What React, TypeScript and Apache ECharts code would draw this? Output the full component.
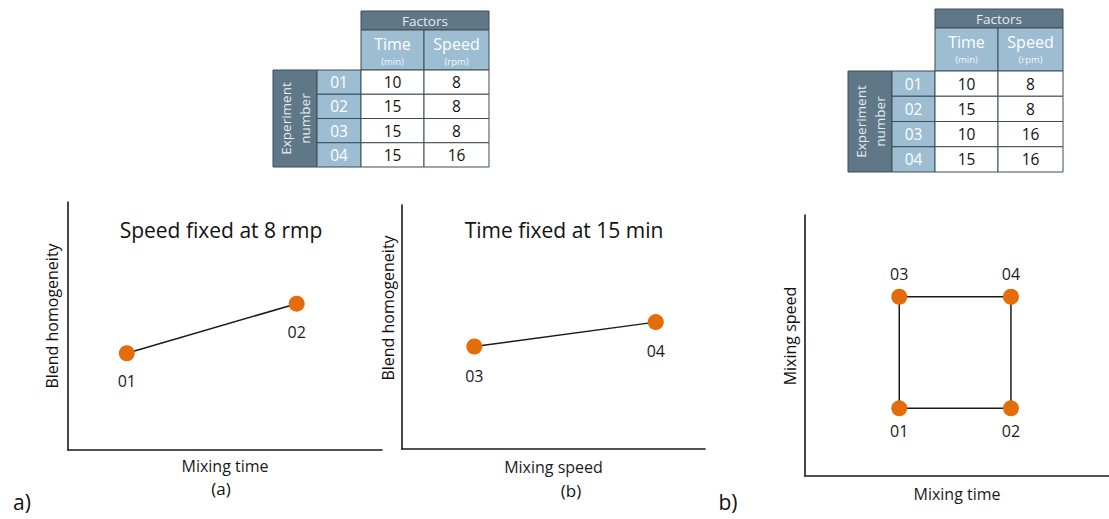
import React, { useEffect, useRef } from "react";
import * as echarts from "echarts";

// ---- data ----
const expIds = ["01", "02", "03", "04"];
const factorNames = ["Time", "Speed"];
const factorUnits = ["(min)", "(rpm)"];
const tableATime = [10, 15, 15, 15];
const tableASpeed = [8, 8, 8, 16];
const tableBTime = [10, 15, 10, 15];
const tableBSpeed = [8, 8, 16, 16];

const panelATime = [10, 15];
const panelAHomog = [0.39, 0.59];
const panelAIds = ["01", "02"];

const panelBSpeed = [8, 16];
const panelBHomog = [0.42, 0.52];
const panelBIds = ["03", "04"];

const designTime = [10, 15, 10, 15];
const designSpeed = [8, 8, 16, 16];
const designIds = ["01", "02", "03", "04"];
const squareOrder = [0, 1, 3, 2, 0];

// ---- style ----
const FONT = "'Open Sans', Lato, sans-serif";
const DARK = "#5f7787";
const LIGHT = "#9dbdd3";
const BORDER = "#3e4c56";
const ORANGE = "#e46c0a";
const INK = "#1a1a1a";

function makeTable(cols: number[], factorsTop: number, headerTop: number, bodyTop: number, rowH: number, time: number[], speed: number[]) {
  const els: any[] = [];
  const bottom = bodyTop + rowH * expIds.length;
  const rect = (x: number, y: number, w: number, h: number, fill: string) =>
    els.push({ type: "rect", shape: { x, y, width: w, height: h }, style: { fill, stroke: BORDER, lineWidth: 1 } });
  const text = (x: number, y: number, t: string, size: number, fill: string) =>
    els.push({ type: "text", x, y, style: { text: t, fontSize: size, fontFamily: FONT, fill, align: "center", verticalAlign: "middle" } });
  // Factors header
  rect(cols[2], factorsTop, cols[4] - cols[2], headerTop - factorsTop, DARK);
  text((cols[2] + cols[4]) / 2, (factorsTop + headerTop) / 2, "Factors", 13.5, "#e6ebee");
  // factor name headers
  for (let i = 0; i < 2; i++) {
    const x0 = cols[2 + i], x1 = cols[3 + i];
    rect(x0, headerTop, x1 - x0, bodyTop - headerTop, LIGHT);
    text((x0 + x1) / 2, headerTop + 14, factorNames[i], 16, "#ffffff");
    text((x0 + x1) / 2, headerTop + 31, factorUnits[i], 9.5, "#f2f6f9");
  }
  // experiment number column
  rect(cols[0], bodyTop, cols[1] - cols[0], bottom - bodyTop, DARK);
  els.push({
    type: "text", x: (cols[0] + cols[1]) / 2, y: (bodyTop + bottom) / 2, rotation: Math.PI / 2,
    style: { text: "Experiment\nnumber", fontSize: 13.5, lineHeight: 19, fontFamily: FONT, fill: "#e6ebee", align: "center", verticalAlign: "middle" },
  });
  for (let r = 0; r < expIds.length; r++) {
    const y0 = bodyTop + r * rowH;
    rect(cols[1], y0, cols[2] - cols[1], rowH, LIGHT);
    text((cols[1] + cols[2]) / 2, y0 + rowH / 2, expIds[r], 15.5, "#ffffff");
    rect(cols[2], y0, cols[3] - cols[2], rowH, "#ffffff");
    text((cols[2] + cols[3]) / 2, y0 + rowH / 2, String(time[r]), 15.5, "#111111");
    rect(cols[3], y0, cols[4] - cols[3], rowH, "#ffffff");
    text((cols[3] + cols[4]) / 2, y0 + rowH / 2, String(speed[r]), 15.5, "#111111");
  }
  return els;
}

function label(x: number, y: number, t: string, size: number, rotation = 0) {
  return {
    type: "text", x, y, rotation,
    style: { text: t, fontSize: size, lineHeight: size, fontFamily: FONT, fill: "#111111", align: "center", verticalAlign: "middle" },
  };
}

function axisBase(gridIndex: number, min: number, max: number, name: string, nameGap: number) {
  return {
    type: "value", gridIndex, min, max, name, nameLocation: "middle", nameGap,
    nameTextStyle: { fontSize: 16, color: "#1a1a1a", fontFamily: FONT },
    axisLine: { show: true, onZero: false, lineStyle: { color: INK, width: 1.6 } },
    axisTick: { show: false }, axisLabel: { show: false }, splitLine: { show: false },
  };
}

export default function App() {
  const ref = useRef<HTMLDivElement>(null);
  useEffect(() => {
    if (!ref.current) return;
    const chart = echarts.init(ref.current, undefined, { renderer: "svg" });
    const pointLabel = (ids: string[], position: string, distance: number) => ({
      show: true, position, distance, fontSize: 16, color: "#1a1a1a", fontFamily: FONT,
      formatter: (p: any) => ids[p.dataIndex],
    });
    const option: any = {
      animation: false,
      backgroundColor: "#ffffff",
      grid: [
        { left: 68, top: 202, width: 314, height: 248 },
        { left: 402, top: 205, width: 303, height: 244 },
        { left: 805, top: 215, width: 304, height: 261 },
      ],
      xAxis: [
        axisBase(0, 8.27, 17.51, "Mixing time", 8),
        axisBase(1, 4.81, 18.17, "Mixing speed", 10),
        axisBase(2, 5.78, 19.39, "Mixing time", 10),
      ],
      yAxis: [
        axisBase(0, 0, 1, "", 8),
        axisBase(1, 0, 1, "", 7),
        axisBase(2, 3.15, 21.86, "", 8),
      ],
      series: [
        {
          type: "line", xAxisIndex: 0, yAxisIndex: 0,
          data: panelATime.map((t, i) => [t, panelAHomog[i]]),
          lineStyle: { color: INK, width: 1.5 }, symbol: "circle", symbolSize: 16, showSymbol: true,
          itemStyle: { color: ORANGE }, label: pointLabel(panelAIds, "bottom", 12),
        },
        {
          type: "line", xAxisIndex: 1, yAxisIndex: 1,
          data: panelBSpeed.map((s, i) => [s, panelBHomog[i]]),
          lineStyle: { color: INK, width: 1.5 }, symbol: "circle", symbolSize: 16, showSymbol: true,
          itemStyle: { color: ORANGE }, label: pointLabel(panelBIds, "bottom", 13),
        },
        {
          type: "line", xAxisIndex: 2, yAxisIndex: 2, z: 1,
          data: squareOrder.map((i) => [designTime[i], designSpeed[i]]),
          lineStyle: { color: INK, width: 1.5 }, showSymbol: false, symbol: "none",
        },
        {
          type: "scatter", xAxisIndex: 2, yAxisIndex: 2, z: 3,
          data: designTime.map((t, i) => ({
            value: [t, designSpeed[i]],
            label: { position: designSpeed[i] > 10 ? "top" : "bottom" },
          })),
          symbol: "circle", symbolSize: 16, itemStyle: { color: ORANGE, opacity: 1 },
          label: pointLabel(designIds, "bottom", 7),
        },
      ],
      graphic: [
        ...makeTable([273, 317, 361, 424, 489], 11, 30, 70, 24.25, tableATime, tableASpeed),
        ...makeTable([848, 892, 935, 998, 1063], 9, 28, 71, 25.25, tableBTime, tableBSpeed),
        label(221, 230, "Speed fixed at 8 rmp", 21),
        label(564, 230, "Time fixed at 15 min", 21),
        label(52, 316, "Blend homogeneity", 16, Math.PI / 2),
        label(388, 308, "Blend homogeneity", 16, Math.PI / 2),
        label(790, 336, "Mixing speed", 16, Math.PI / 2),
        label(221, 488, "(a)", 17),
        label(571, 490, "(b)", 17),
        label(22, 502, "a)", 21),
        label(728, 502, "b)", 21),
      ],
    };
    chart.setOption(option);
    return () => chart.dispose();
  }, []);
  return <div ref={ref} style={{ position: "absolute", left: 0, top: 0, width: 1109, height: 519 }} />;
}
